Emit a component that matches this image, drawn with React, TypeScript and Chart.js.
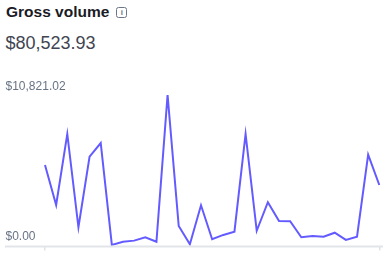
import React, { useEffect, useRef } from "react";
import { Chart, registerables } from "chart.js";

Chart.register(...registerables);

const title = "Gross volume";
const totalLabel = "$80,523.93";
const categories = [
  "Day 1", "Day 2", "Day 3", "Day 4", "Day 5", "Day 6", "Day 7", "Day 8",
  "Day 9", "Day 10", "Day 11", "Day 12", "Day 13", "Day 14", "Day 15", "Day 16",
  "Day 17", "Day 18", "Day 19", "Day 20", "Day 21", "Day 22", "Day 23", "Day 24",
  "Day 25", "Day 26", "Day 27", "Day 28", "Day 29", "Day 30", "Day 31",
];
const volumes = [
  5790, 2910, 8020, 1310, 6390, 7370, 40, 270, 350, 590, 270, 10821.02,
  1400, 90, 2890, 450, 760, 990, 8020, 1060, 3110, 1760, 1740, 590,
  680, 630, 920, 400, 630, 6530, 4350,
];
const yMin = 0;
const yMax = 10821.02;
const yTickLabels = ["$0.00", "$10,821.02"];

const FONT = "'Liberation Sans', Arial, sans-serif";

export default function App() {
  const canvasRef = useRef<HTMLCanvasElement | null>(null);

  useEffect(() => {
    if (!canvasRef.current) return;
    const decorations = {
      id: "decorations",
      beforeDatasetsDraw(chart: any) {
        const ctx = chart.ctx;
        const ys = chart.scales.y;
        const y0 = ys.getPixelForValue(yMin);
        ctx.save();
        ctx.strokeStyle = "#e1e5ea";
        ctx.lineWidth = 2;
        ctx.beginPath();
        ctx.moveTo(5, y0 + 1);
        ctx.lineTo(chart.width, y0 + 1);
        ctx.stroke();
        ctx.fillStyle = "#687385";
        ctx.font = `12px ${FONT}`;
        ctx.textAlign = "left";
        ctx.textBaseline = "middle";
        ys.ticks.forEach((t: any, i: number) => {
          ctx.fillText(yTickLabels[i], 5.5, ys.getPixelForValue(t.value) - 8.5);
        });
        ctx.restore();
      },
    };
    const chart = new Chart(canvasRef.current, {
      type: "line",
      data: {
        labels: categories,
        datasets: [
          {
            data: volumes,
            borderColor: "#635bff",
            borderWidth: 2,
            pointRadius: 0,
            tension: 0,
            fill: false,
          },
        ],
      },
      plugins: [decorations],
      options: {
        animation: false,
        responsive: true,
        maintainAspectRatio: false,
        layout: { padding: { top: 20, left: 5, right: 3.7, bottom: 0 } },
        plugins: { legend: { display: false }, tooltip: { enabled: false } },
        scales: {
          x: {
            type: "category",
            grid: {
              display: true,
              drawOnChartArea: false,
              drawTicks: true,
              tickLength: 5,
              lineWidth: 1.5,
              color: (c: any) =>
                c.index === 0 || c.index === categories.length - 1 ? "#dfe3e8" : "transparent",
            },
            border: { display: false },
            ticks: { display: false, autoSkip: false },
            afterFit: (s: any) => {
              s.height = 10.5;
            },
          },
          y: {
            min: yMin,
            max: yMax,
            position: "left",
            grid: { display: false },
            border: { display: false },
            afterBuildTicks: (s: any) => {
              s.ticks = [{ value: yMin }, { value: yMax }];
            },
            ticks: { display: false },
            afterFit: (s: any) => {
              s.width = 40;
            },
          },
        },
      },
    });
    return () => chart.destroy();
  }, []);

  return (
    <div
      style={{
        position: "fixed",
        left: 0,
        top: 0,
        width: 383,
        height: 256,
        background: "#fff",
        fontFamily: FONT,
      }}
    >
      <div
        style={{
          position: "absolute",
          left: 6,
          top: 3,
          fontSize: 15.5,
          fontWeight: 700,
          color: "#1a1b25",
          display: "flex",
          alignItems: "center",
          whiteSpace: "nowrap",
        }}
      >
        {title}
        <span
          style={{
            display: "inline-flex",
            alignItems: "center",
            justifyContent: "center",
            marginLeft: 7,
            width: 9,
            height: 9,
            border: "1.5px solid #6c7688",
            borderRadius: 2.5,
            fontSize: 8,
            lineHeight: "9px",
            color: "#6c7688",
            fontWeight: 700,
          }}
        >
          i
        </span>
      </div>
      <div
        style={{
          position: "absolute",
          left: 5.5,
          top: 33,
          fontSize: 18,
          color: "#414552",
          whiteSpace: "nowrap",
        }}
      >
        {totalLabel}
      </div>
      <div style={{ position: "absolute", left: 0, top: 75, width: 383, height: 181 }}>
        <canvas ref={canvasRef} />
      </div>
    </div>
  );
}
